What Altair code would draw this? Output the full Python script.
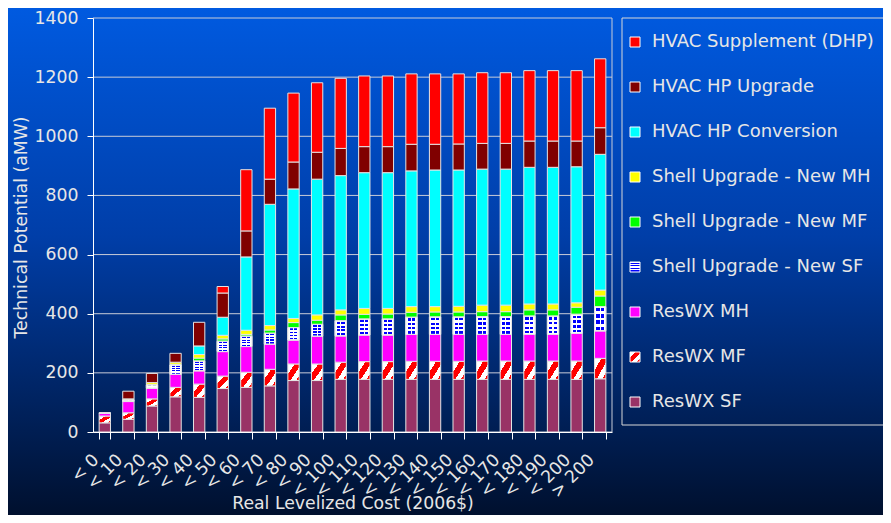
import altair as alt
import pandas as pd

categories = ["< 0", "< 10", "< 20", "< 30", "< 40", "< 50", "< 60", "< 70", "< 80", "< 90",
              "< 100", "< 110", "< 120", "< 130", "< 140", "< 150", "< 160", "< 170", "< 180",
              "< 190", "< 200", "> 200"]

# Legend order (top of legend first); stacking order is the reverse
series = ["HVAC Supplement (DHP)", "HVAC HP Upgrade", "HVAC HP Conversion",
          "Shell Upgrade - New MH", "Shell Upgrade - New MF", "Shell Upgrade - New SF",
          "ResWX MH", "ResWX MF", "ResWX SF"]

reswx_sf = [31, 43, 88, 119, 117, 147, 151, 156, 174, 174, 178, 178, 178, 178, 178, 178, 178, 178, 178, 178, 178, 180]
reswx_mf = [23, 22, 24, 32, 45, 42, 51, 56, 56, 56, 58, 60, 60, 61, 61, 61, 62, 62, 62, 62, 62, 69]
reswx_mh = [9, 38, 36, 44, 45, 83, 87, 85, 81, 94, 89, 90, 90, 91, 91, 91, 90, 90, 90, 90, 94, 93]
shell_sf = [2, 5, 11, 32, 33, 35, 35, 37, 42, 40, 51, 54, 54, 58, 59, 59, 60, 60, 62, 62, 64, 82]
shell_mf = [0, 1, 1, 2, 10, 8, 6, 11, 17, 14, 20, 16, 17, 17, 17, 17, 17, 17, 21, 21, 24, 36]
shell_mh = [0, 3, 7, 7, 12, 12, 14, 15, 14, 18, 17, 20, 19, 19, 18, 19, 22, 22, 20, 20, 15, 20]
hp_conv = [0, 0, 0, 0, 29, 61, 248, 410, 438, 459, 454, 459, 459, 459, 462, 461, 460, 460, 462, 462, 460, 459]
hp_upg = [0, 26, 31, 30, 80, 82, 88, 85, 91, 91, 92, 88, 88, 90, 87, 88, 87, 87, 89, 89, 87, 90]
hvac_supp = [0, 0, 0, 0, 0, 22, 207, 240, 233, 235, 237, 239, 239, 238, 238, 237, 239, 239, 238, 238, 238, 233]

y_ticks = [0, 200, 400, 600, 800, 1000, 1200, 1400]

stack_values = [reswx_sf, reswx_mf, reswx_mh, shell_sf, shell_mf, shell_mh, hp_conv, hp_upg, hvac_supp]
stack_names = series[::-1]

rows = []
for order, (name, vals) in enumerate(zip(stack_names, stack_values)):
    for cat, v in zip(categories, vals):
        rows.append({"category": cat, "series": name, "value": v, "order": order})
df = pd.DataFrame(rows)

W, H = 519, 414
PAD = {"left": 85, "top": 10, "right": 271, "bottom": 83}
FONT = "DejaVu Sans"
TEXT = "#e6e6e6"
LINE = "#c8ccd8"


def grad_expr(x2, y2, stops):
    s = ", ".join("{offset: %s, color: '%s'}" % (o, c) for o, c in stops)
    return {"expr": "{gradient: 'linear', x1: 0, y1: 0, x2: %s, y2: %s, stops: [%s]}" % (x2, y2, s)}


stripe_stops = [(0, "#ffffff"), (0.3, "#ffffff"), (0.3, "#ff0000"), (0.6, "#ff0000"),
                (0.6, "#ffffff"), (0.85, "#ffffff"), (0.85, "#ff0000"), (1, "#ff0000")]
check_stops = []
for k in range(4):
    b = k * 0.25
    check_stops += [(round(b, 3), "#ffffff"), (round(b + 0.07, 3), "#ffffff"),
                    (round(b + 0.07, 3), "#0000ff"), (round(b + 0.2, 3), "#0000ff"),
                    (round(b + 0.2, 3), "#ffffff"), (round(b + 0.25, 3), "#ffffff")]

color_range = ["#ff0000", "#800000", "#00ffff", "#ffff00", "#00ff00",
               grad_expr(0, 1, check_stops), "#ff00ff", grad_expr(1, 1, stripe_stops), "#993366"]

x_axis = alt.Axis(title="Real Levelized Cost (2006$)", labelAngle=-45, labelAlign="right",
                  labelBaseline="middle", labelOffset=-9, labelPadding=18, tickBand="extent",
                  tickSize=7, titleY=76, titleBaseline="alphabetic", zindex=1)
y_axis = alt.Axis(title="Technical Potential (aMW)", values=y_ticks, format="d", grid=False,
                  tickSize=6, labelPadding=9, titleX=-72, titleY=209, titleBaseline="middle",
                  zindex=1)
x_enc = alt.X("category:N", sort=categories,
              scale=alt.Scale(paddingInner=0.52, paddingOuter=0.26), axis=x_axis)
y_scale = alt.Scale(domain=[0, 1400], nice=False)

one = pd.DataFrame({"k": [0]})

bg = alt.Chart(one).mark_rect(
    color=alt.LinearGradient(gradient="linear", x1=0, y1=0, x2=0, y2=1,
                             stops=[alt.GradientStop(offset=0, color="#005ae0"),
                                    alt.GradientStop(offset=0.45, color="#003ea8"),
                                    alt.GradientStop(offset=1, color="#00102e")])
).encode(x=alt.value(-PAD["left"]), x2=alt.value(W + PAD["right"]),
         y=alt.value(-PAD["top"]), y2=alt.value(H + PAD["bottom"]))

legend_box = alt.Chart(one).mark_rect(fillOpacity=0, stroke="#d8d8d8", strokeWidth=1).encode(
    x=alt.value(529), x2=alt.value(795), y=alt.value(0), y2=alt.value(407))

grid = alt.Chart(pd.DataFrame({"v": y_ticks})).mark_rule(color=LINE, strokeWidth=1).encode(
    y=alt.Y("v:Q", scale=y_scale, axis=y_axis), x=alt.value(0), x2=alt.value(W))

frame = alt.Chart(one).mark_rule(color=LINE, strokeWidth=1).encode(
    x=alt.value(W), y=alt.value(0), y2=alt.value(H))

base = alt.Chart(df).transform_filter(alt.datum.value > 0).transform_stack(
    stack="value", as_=["y0", "y1"], groupby=["category"],
    sort=[alt.SortField("order", order="ascending")])

bars = base.mark_bar(stroke="#e4e4e4", strokeWidth=1).encode(
    x=x_enc,
    y=alt.Y("y0:Q", scale=y_scale, axis=y_axis),
    y2="y1:Q",
    color=alt.Color("series:N", scale=alt.Scale(domain=series, range=color_range),
                    legend=alt.Legend(orient="none", legendX=533, legendY=15, title=None,
                                      symbolType="square", symbolSize=100,
                                      symbolStrokeColor="#ffffff", symbolStrokeWidth=1,
                                      labelFont=FONT, labelFontSize=18, labelColor=TEXT,
                                      labelOffset=8, rowPadding=27, padding=0,
                                      labelLimit=400)),
)

overlay = base.transform_filter(alt.datum.series == "Shell Upgrade - New SF").mark_bar(
    stroke="#e4e4e4", strokeWidth=1,
    color=alt.LinearGradient(gradient="linear", x1=0, y1=0, x2=1, y2=0,
                             stops=[alt.GradientStop(offset=0, color="#ffffff"),
                                    alt.GradientStop(offset=0.15, color="#ffffff"),
                                    alt.GradientStop(offset=0.15, color="rgba(255,255,255,0)"),
                                    alt.GradientStop(offset=0.45, color="rgba(255,255,255,0)"),
                                    alt.GradientStop(offset=0.45, color="#ffffff"),
                                    alt.GradientStop(offset=0.55, color="#ffffff"),
                                    alt.GradientStop(offset=0.55, color="rgba(255,255,255,0)"),
                                    alt.GradientStop(offset=0.85, color="rgba(255,255,255,0)"),
                                    alt.GradientStop(offset=0.85, color="#ffffff"),
                                    alt.GradientStop(offset=1, color="#ffffff")])
).encode(x=x_enc, y=alt.Y("y0:Q", scale=y_scale, axis=y_axis), y2="y1:Q")

chart = alt.layer(bg, legend_box, grid, frame, bars, overlay).properties(
    width=W, height=H, autosize=alt.AutoSizeParams(type="none"), padding=PAD,
    background="#00287a"
).configure_axis(
    labelFont=FONT, titleFont=FONT, labelColor=TEXT, titleColor=TEXT,
    labelFontSize=17.3, titleFontSize=17.3, titleFontWeight="normal",
    domainColor="#ffffff", tickColor="#ffffff", domainWidth=1, tickWidth=1
).configure_view(stroke=None)

chart.save("out.html", embed_options={"renderer": "svg", "actions": False})
